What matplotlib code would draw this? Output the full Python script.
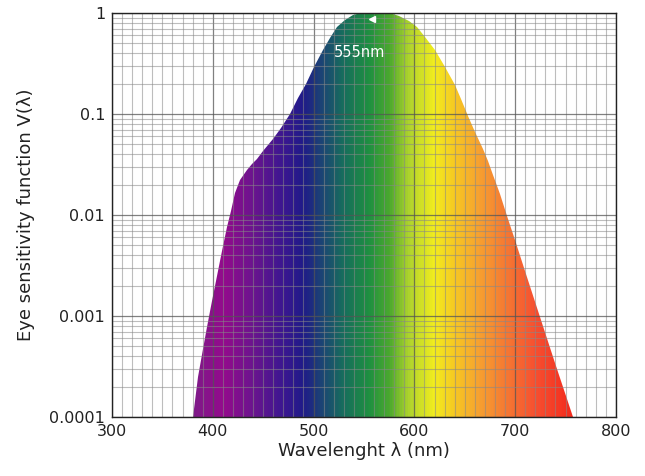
import numpy as np
import matplotlib
matplotlib.use("Agg")
import matplotlib.pyplot as plt
from matplotlib.colors import LinearSegmentedColormap
from matplotlib.patches import Polygon
from matplotlib.ticker import MultipleLocator, LogLocator, FixedLocator, FixedFormatter

# curve (wavelength in nm, V(lambda))
wavelength = [380, 385, 390, 394, 399, 404, 409, 414, 418, 422, 427, 434, 439, 444,
              450, 455, 460, 468, 477, 485, 492, 500, 509, 516, 523, 531, 539, 547,
              555, 565, 576, 585, 595, 603, 611, 620, 630, 640, 646, 653, 660, 668,
              673, 678, 685, 692, 700, 710, 725, 740, 757]
sensitivity = [0.0001, 0.00025, 0.00047, 0.00078, 0.0014, 0.0025, 0.0044, 0.0076,
               0.011, 0.0166, 0.022, 0.028, 0.032, 0.036, 0.043, 0.049, 0.056, 0.072,
               0.10, 0.145, 0.20, 0.29, 0.43, 0.57, 0.72, 0.85, 0.95, 0.99, 1.0, 1.0,
               0.99, 0.94, 0.84, 0.72, 0.58, 0.43, 0.29, 0.195, 0.14, 0.096, 0.066,
               0.045, 0.034, 0.025, 0.016, 0.0098, 0.0056, 0.0028, 0.00098, 0.00034,
               0.0001]

# spectrum colour stops
stop_nm = [380, 410, 440, 470, 490, 510, 530, 555, 575, 595, 620, 640, 665, 690, 720, 757]
stop_col = ["#7d1a88", "#930a8c", "#6a148e", "#3a1690", "#1f1b88", "#1b4872", "#166e5c",
            "#1e9040", "#4aa82e", "#b0d42c", "#f2ec1e", "#f6c822", "#f6a030", "#f57a32",
            "#f65030", "#f42a1c"]

y_ticks = [0.0001, 0.001, 0.01, 0.1, 1]
y_labels = ["0.0001", "0.001", "0.01", "0.1", "1"]
peak_nm = 555

fig = plt.figure(figsize=(6.45, 4.76), dpi=100)
ax = fig.add_axes([0.1736, 0.124, 0.7814, 0.8487])
ax.set_yscale("log")
ax.set_xlim(300, 800)
ax.set_ylim(1e-4, 1)

lo, hi = stop_nm[0], stop_nm[-1]
cmap = LinearSegmentedColormap.from_list(
    "spec", [((s - lo) / (hi - lo), c) for s, c in zip(stop_nm, stop_col)])
xg = np.linspace(lo, hi, 400)
C = ((xg[:-1] + xg[1:]) / 2).reshape(1, -1)
mesh = ax.pcolormesh(xg, [1e-4, 1], C, cmap=cmap, vmin=lo, vmax=hi,
                     shading="flat", zorder=1)

verts = list(zip(wavelength, sensitivity)) + [(wavelength[-1], 1e-4), (wavelength[0], 1e-4)]
clip = Polygon(verts, closed=True, facecolor="none", edgecolor="none",
               transform=ax.transData)
ax.add_patch(clip)
mesh.set_clip_path(clip)

ax.xaxis.set_major_locator(MultipleLocator(100))
ax.xaxis.set_minor_locator(MultipleLocator(10))
ax.yaxis.set_major_locator(FixedLocator(y_ticks))
ax.yaxis.set_major_formatter(FixedFormatter(y_labels))
ax.yaxis.set_minor_locator(LogLocator(base=10, subs=np.arange(2, 10)))
ax.yaxis.set_minor_formatter(plt.NullFormatter())

ax.grid(True, which="major", color="#555555", alpha=0.75, lw=0.9, zorder=2)
ax.grid(True, which="minor", color="#888888", alpha=0.55, lw=0.8, zorder=2)
ax.tick_params(which="both", length=0, labelsize=11.5, colors="#222222", pad=5)

for s in ax.spines.values():
    s.set_color("#222222")
    s.set_linewidth(1.0)

ax.plot([558], [0.87], marker="<", color="white", markersize=4, zorder=3)
ax.text(546, 0.41, "%dnm" % peak_nm, color="white", fontsize=10.5,
        ha="center", va="center", zorder=3)

ax.set_xlabel("Wavelenght λ (nm)", fontsize=13, color="#222222", labelpad=2)
ax.set_ylabel("Eye sensitivity function V(λ)", fontsize=13, color="#222222", labelpad=10)

fig.savefig("out.png", dpi=100)
